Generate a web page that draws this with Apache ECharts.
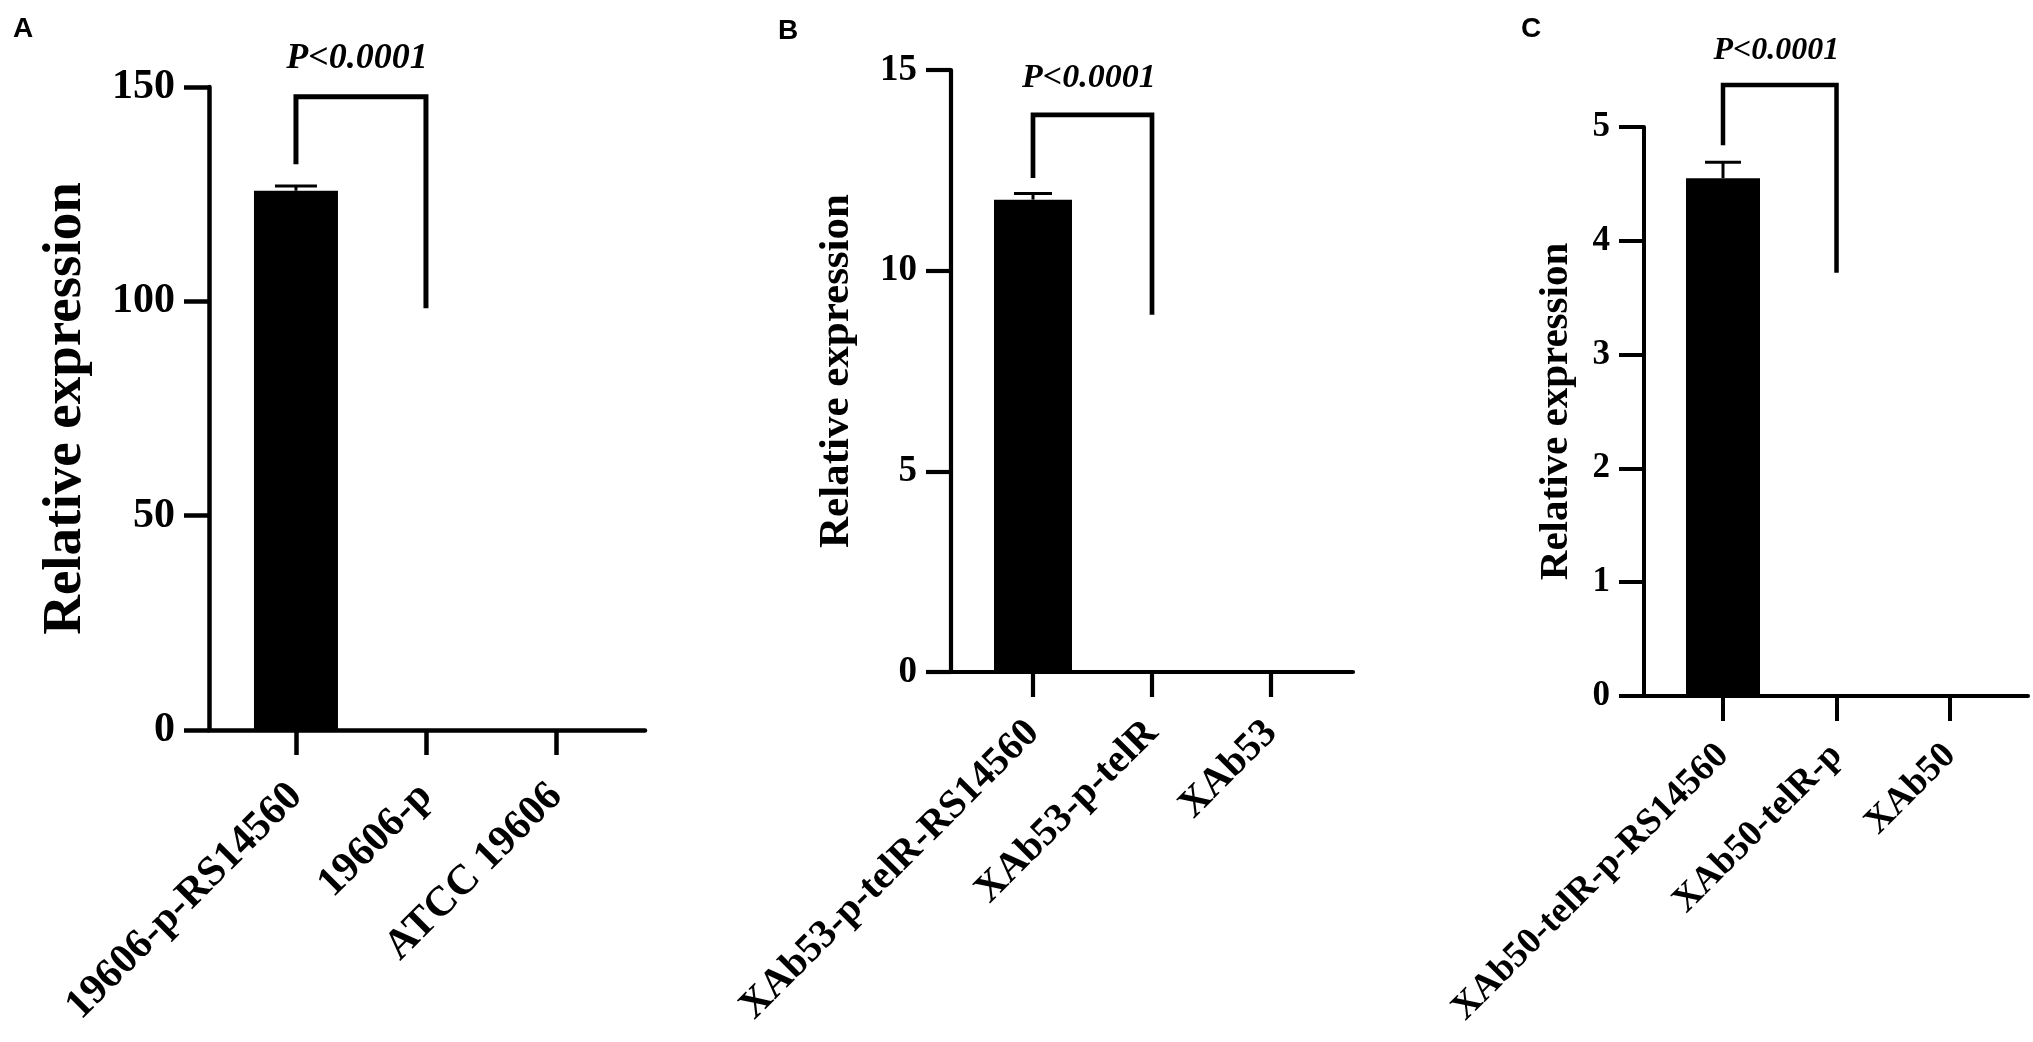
<!DOCTYPE html>
<html>
<head>
<meta charset="utf-8">
<script src="https://cdn.jsdelivr.net/npm/echarts@6/dist/echarts.min.js"></script>
<style>html,body{margin:0;padding:0;background:#fff;}#c{width:2033px;height:1042px;}</style>
</head>
<body>
<div id="c"></div>
<script>
// ---------- DATA ----------
const catsA = ['19606-p-RS14560', '19606-p', 'ATCC 19606'];
const valsA = [125.8, 0, 0];
const errA = [1.1, 0, 0];
const ticksA = [0, 50, 100, 150];
// bracket: [fromCat, toCat, leftBottom, top, rightBottom, labelY]
const bracketA = [0, 1, 132.0, 147.7, 98.4, 156.6];

const catsB = ['XAb53-p-telR-RS14560', 'XAb53-p-telR', 'XAb53'];
const valsB = [11.77, 0, 0];
const errB = [0.15, 0, 0];
const ticksB = [0, 5, 10, 15];
const bracketB = [0, 1, 12.31, 13.88, 8.90, 14.79];

const catsC = ['XAb50-telR-p-RS14560', 'XAb50-telR-p', 'XAb50'];
const valsC = [4.55, 0, 0];
const errC = [0.14, 0, 0];
const ticksC = [0, 1, 2, 3, 4, 5];
const bracketC = [0, 1, 4.84, 5.37, 3.72, 5.67];

const pLabel = 'P<0.0001';
const yTitle = 'Relative expression';

// ---------- LAYOUT ----------
const SERIF = '"Liberation Serif", "Times New Roman", serif';
const panels = [
  { cats: catsA, vals: valsA, err: errA, ticks: ticksA, br: bracketA,
    grid: { left: 209, top: 87, width: 436, height: 643 },
    xmin: -0.669, xmax: 2.685, tickFont: 42, catFont: 42, catMargin: 60, titleFont: 55, nameGap: 116,
    barW: 84, capHalf: 21, pFont: 36, lw: 4.5 },
  { cats: catsB, vals: valsB, err: errB, ticks: ticksB, br: bracketB,
    grid: { left: 951, top: 70, width: 402, height: 602 },
    xmin: -0.689, xmax: 2.689, tickFont: 37, catFont: 40, catMargin: 55, titleFont: 43, nameGap: 93,
    barW: 78, capHalf: 19, pFont: 34, lw: 4.2 },
  { cats: catsC, vals: valsC, err: errC, ticks: ticksC, br: bracketC,
    grid: { left: 1644, top: 127, width: 384, height: 569 },
    xmin: -0.696, xmax: 2.687, tickFont: 35, catFont: 37, catMargin: 54, titleFont: 41, nameGap: 67,
    barW: 74, capHalf: 18, pFont: 32, lw: 4.0 }
];

const grids = [], xAxes = [], yAxes = [], series = [];
panels.forEach((p, i) => {
  grids.push(Object.assign({ containLabel: false }, p.grid));
  const catIdx = p.cats.map((_, k) => k);
  xAxes.push({
    type: 'value', gridIndex: i, min: p.xmin, max: p.xmax,
    splitLine: { show: false },
    axisLine: { show: true, onZero: false, lineStyle: { color: '#000', width: p.lw } },
    axisTick: { show: true, customValues: catIdx, length: 25, lineStyle: { color: '#000', width: p.lw } },
    axisLabel: {
      show: true, customValues: catIdx, rotate: 45, margin: p.catMargin,
      formatter: v => p.cats[Math.round(v)],
      fontFamily: SERIF, fontWeight: 'bold', fontSize: p.catFont, color: '#000'
    }
  });
  yAxes.push({
    type: 'value', gridIndex: i, min: p.ticks[0], max: p.ticks[p.ticks.length - 1],
    interval: p.ticks[1] - p.ticks[0],
    name: yTitle, nameLocation: 'middle', nameGap: p.nameGap, nameRotate: 90,
    nameTextStyle: { fontFamily: SERIF, fontSize: p.titleFont, color: '#000', fontWeight: 'bold' },
    splitLine: { show: false },
    axisLine: { show: true, onZero: false, lineStyle: { color: '#000', width: p.lw } },
    axisTick: { show: true, length: 25, lineStyle: { color: '#000', width: p.lw } },
    axisLabel: { margin: 34, fontFamily: SERIF, fontWeight: 'bold', fontSize: p.tickFont, color: '#000' }
  });
  // bars
  series.push({
    type: 'bar', xAxisIndex: i, yAxisIndex: i, barWidth: p.barW,
    itemStyle: { color: '#000' }, silent: true,
    data: p.vals.map((v, k) => [k, v])
  });
  // error bars (upper only)
  series.push({
    type: 'custom', xAxisIndex: i, yAxisIndex: i, silent: true, clip: false,
    data: p.vals.map((v, k) => [k, v, v + p.err[k]]),
    renderItem: (params, api) => {
      if (api.value(2) <= api.value(1)) return { type: 'group', children: [] };
      const a = api.coord([api.value(0), api.value(1)]);
      const b = api.coord([api.value(0), api.value(2)]);
      const st = { stroke: '#000', lineWidth: 3 };
      return { type: 'group', children: [
        { type: 'line', shape: { x1: a[0], y1: a[1], x2: b[0], y2: b[1] }, style: st },
        { type: 'line', shape: { x1: b[0] - p.capHalf, y1: b[1], x2: b[0] + p.capHalf, y2: b[1] }, style: st }
      ]};
    }
  });
  // significance bracket + label
  series.push({
    type: 'custom', xAxisIndex: i, yAxisIndex: i, silent: true, clip: false,
    data: [p.br],
    renderItem: (params, api) => {
      const x0 = api.value(0), x1 = api.value(1);
      const lb = api.coord([x0, api.value(2)]);
      const lt = api.coord([x0, api.value(3)]);
      const rt = api.coord([x1, api.value(3)]);
      const rb = api.coord([x1, api.value(4)]);
      const lab = api.coord([(x0 + x1) / 2 - 0.03, api.value(5)]);
      return { type: 'group', children: [
        { type: 'polyline', shape: { points: [lb, lt, rt, rb] },
          style: { stroke: '#000', lineWidth: p.lw + 0.5, fill: null, lineJoin: 'miter' } },
        { type: 'text', style: { text: pLabel, x: lab[0], y: lab[1], align: 'center', verticalAlign: 'middle',
          fontFamily: SERIF, fontSize: p.pFont, fontWeight: 'bold', fontStyle: 'italic', fill: '#000' } }
      ]};
    }
  });
});

const panelTitle = (t, x, y) => ({ text: t, left: x, top: y, padding: 0,
  textStyle: { fontFamily: '"Liberation Sans", Arial, sans-serif', fontWeight: 'bold', fontSize: 28, color: '#000' } });

const chart = echarts.init(document.getElementById('c'), null, { renderer: 'canvas' });
chart.setOption({
  backgroundColor: '#fff',
  animation: false,
  title: [panelTitle('A', 13, 15), panelTitle('B', 778, 17), panelTitle('C', 1521, 15)],
  grid: grids, xAxis: xAxes, yAxis: yAxes, series: series
});
</script>
</body>
</html>
